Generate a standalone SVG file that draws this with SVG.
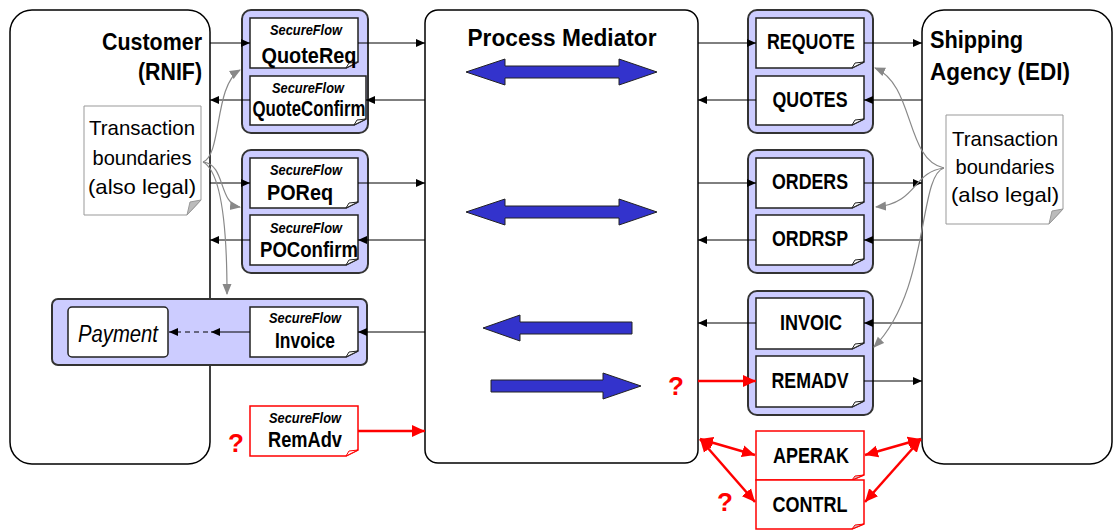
<svg xmlns="http://www.w3.org/2000/svg" width="1114" height="530" viewBox="0 0 1114 530">
<defs>
<style>
.big{fill:#fff;stroke:#000;stroke-width:1.5}
.grp{fill:#ccccff;stroke:#333;stroke-width:2}
.doc{fill:#fff;stroke:#222;stroke-width:1.5}
.rdoc{fill:#fff;stroke:#f00;stroke-width:1.5}
.fold{fill:#fff;stroke:#222;stroke-width:1}
.rfold{fill:#ccc;stroke:#f00;stroke-width:1}
.note{fill:#fff;stroke:#999;stroke-width:1}
.nfold{fill:#bbb;stroke:#999;stroke-width:1}
.t{font-family:"Liberation Sans",Arial,sans-serif;fill:#000}
.b{font-weight:bold}
.sf{font-family:"Liberation Sans",Arial,sans-serif;font-weight:bold;font-style:italic;font-size:14px;text-anchor:middle}
.dn{font-family:"Liberation Sans",Arial,sans-serif;font-weight:bold;font-size:22px;text-anchor:middle}
.q{font-family:"Liberation Sans",Arial,sans-serif;font-weight:bold;font-size:26px;fill:#f00;text-anchor:middle}
.ln{stroke:#000;stroke-width:1;fill:none}
.rl{stroke:#f00;stroke-width:2.5;fill:none}
.gl{stroke:#888;stroke-width:1.2;fill:none}
.ba{fill:#3333cc;stroke:#222;stroke-width:1}
</style>
<marker id="ah" markerUnits="userSpaceOnUse" markerWidth="10" markerHeight="10" refX="9" refY="5" orient="auto"><path d="M0,1 L9,5 L0,9 z" fill="#000"/></marker>
<marker id="rh" markerUnits="userSpaceOnUse" markerWidth="14" markerHeight="14" refX="13" refY="7" orient="auto"><path d="M0,1 L13,7 L0,13 z" fill="#f00"/></marker>
<marker id="rs" markerUnits="userSpaceOnUse" markerWidth="14" markerHeight="14" refX="1" refY="7" orient="auto"><path d="M14,1 L1,7 L14,13 z" fill="#f00"/></marker>
<marker id="gh" markerUnits="userSpaceOnUse" markerWidth="12" markerHeight="10" refX="10" refY="5" orient="auto"><path d="M0,0.5 L11,5 L0,9.5 z" fill="#888"/></marker>
</defs>

<g id="customer">
<rect class="big" x="10" y="10" width="200" height="454" rx="22"/>
<text class="t b" x="202" y="50" font-size="24" text-anchor="end" textLength="100" lengthAdjust="spacingAndGlyphs">Customer</text>
<text class="t b" x="202" y="80" font-size="24" text-anchor="end" textLength="64" lengthAdjust="spacingAndGlyphs">(RNIF)</text>
</g>

<g id="mediator">
<rect class="big" x="425" y="10" width="273" height="453" rx="13"/>
<text class="t b" x="562" y="46" font-size="24" text-anchor="middle" textLength="189" lengthAdjust="spacingAndGlyphs">Process Mediator</text>
</g>

<g id="shipping">
<rect class="big" x="922" y="10" width="190" height="454" rx="22"/>
<text class="t b" x="930" y="48" font-size="24" textLength="93" lengthAdjust="spacingAndGlyphs">Shipping</text>
<text class="t b" x="930" y="80" font-size="24" textLength="140" lengthAdjust="spacingAndGlyphs">Agency (EDI)</text>
</g>

<g id="blue-arrows">
<path class="ba" d="M466,72 L505,59 L505,66 L619,66 L619,59 L657,72 L619,85 L619,78 L505,78 L505,85 z"/>
<path class="ba" d="M466,212 L505,199 L505,206 L619,206 L619,199 L657,212 L619,225 L619,218 L505,218 L505,225 z"/>
<path class="ba" d="M483,328 L520,315 L520,322 L632,322 L632,334 L520,334 L520,341 z"/>
<path class="ba" d="M641,386 L603,373 L603,380 L491,380 L491,392 L603,392 L603,399 z"/>
</g>

<g id="note-left">
<path class="note" d="M84,106 L201,106 L201,200 L187,215 L84,215 z"/>
<path class="nfold" d="M187,215 L190,202 L201,200 z"/>
<text class="t" x="142" y="135" font-size="21" text-anchor="middle" textLength="106" lengthAdjust="spacingAndGlyphs">Transaction</text>
<text class="t" x="142" y="165" font-size="21" text-anchor="middle" textLength="99" lengthAdjust="spacingAndGlyphs">boundaries</text>
<text class="t" x="142" y="194" font-size="21" text-anchor="middle" textLength="108" lengthAdjust="spacingAndGlyphs">(also legal)</text>
</g>

<g id="note-right">
<path class="note" d="M946,115 L1063,115 L1063,209 L1049,224 L946,224 z"/>
<path class="nfold" d="M1049,224 L1052,211 L1063,209 z"/>
<text class="t" x="1005" y="146" font-size="21" text-anchor="middle" textLength="106" lengthAdjust="spacingAndGlyphs">Transaction</text>
<text class="t" x="1005" y="174" font-size="21" text-anchor="middle" textLength="99" lengthAdjust="spacingAndGlyphs">boundaries</text>
<text class="t" x="1005" y="202" font-size="21" text-anchor="middle" textLength="108" lengthAdjust="spacingAndGlyphs">(also legal)</text>
</g>

<g id="quote-group">
<rect class="grp" x="242" y="10" width="126" height="123" rx="9"/>
<g id="quotereq">
<path class="doc" d="M250,18 L358,18 L358,62 L346,68 L250,68 z"/><path class="fold" d="M346,68 L349,63 L358,62 z"/>
<text class="sf" x="306" y="35" textLength="72" lengthAdjust="spacingAndGlyphs">SecureFlow</text>
<text class="dn" x="309" y="63" textLength="95" lengthAdjust="spacingAndGlyphs">QuoteReq</text>
</g>
<g id="quoteconfirm">
<path class="doc" d="M250,76 L366,76 L366,119 L354,125 L250,125 z"/><path class="fold" d="M354,125 L357,120 L366,119 z"/>
<text class="sf" x="308" y="93" textLength="72" lengthAdjust="spacingAndGlyphs">SecureFlow</text>
<text class="dn" x="309" y="116" font-size="20" textLength="113" lengthAdjust="spacingAndGlyphs">QuoteConfirm</text>
</g>
</g>

<g id="po-group">
<rect class="grp" x="242" y="150" width="126" height="123" rx="9"/>
<g id="poreq">
<path class="doc" d="M250,158 L358,158 L358,202 L346,208 L250,208 z"/><path class="fold" d="M346,208 L349,203 L358,202 z"/>
<text class="sf" x="306" y="175" textLength="72" lengthAdjust="spacingAndGlyphs">SecureFlow</text>
<text class="dn" x="300" y="200" textLength="66" lengthAdjust="spacingAndGlyphs">POReq</text>
</g>
<g id="poconfirm">
<path class="doc" d="M250,215 L358,215 L358,259 L346,265 L250,265 z"/><path class="fold" d="M346,265 L349,260 L358,259 z"/>
<text class="sf" x="306" y="233" textLength="72" lengthAdjust="spacingAndGlyphs">SecureFlow</text>
<text class="dn" x="309" y="257" textLength="98" lengthAdjust="spacingAndGlyphs">POConfirm</text>
</g>
</g>

<g id="invoice-group">
<rect class="grp" x="52" y="299" width="315" height="66" rx="6"/>
<g id="payment">
<rect class="doc" x="68" y="307" width="100" height="50" rx="4"/>
<text class="t" x="118" y="342" font-size="23" font-style="italic" text-anchor="middle" textLength="80" lengthAdjust="spacingAndGlyphs">Payment</text>
</g>
<g id="invoice">
<path class="doc" d="M250,307 L358,307 L358,351 L346,357 L250,357 z"/><path class="fold" d="M346,357 L349,352 L358,351 z"/>
<text class="sf" x="305" y="323" textLength="72" lengthAdjust="spacingAndGlyphs">SecureFlow</text>
<text class="dn" x="305" y="348" textLength="60" lengthAdjust="spacingAndGlyphs">Invoice</text>
</g>
</g>

<g id="remadv-left">
<path class="rdoc" d="M250,406 L358,406 L358,450 L346,456 L250,456 z"/><path class="fold" d="M346,456 L349,451 L358,450 z" style="stroke:#f00"/>
<text class="sf" x="305" y="423" textLength="72" lengthAdjust="spacingAndGlyphs">SecureFlow</text>
<text class="dn" x="305" y="447" textLength="74" lengthAdjust="spacingAndGlyphs">RemAdv</text>
</g>

<g id="requote-group">
<rect class="grp" x="748" y="10" width="125" height="123" rx="9"/>
<g id="requote">
<path class="doc" d="M756,18 L864,18 L864,62 L852,68 L756,68 z"/><path class="fold" d="M852,68 L855,63 L864,62 z"/>
<text class="dn" x="811" y="49" font-size="20" textLength="88" lengthAdjust="spacingAndGlyphs">REQUOTE</text>
</g>
<g id="quotes">
<path class="doc" d="M756,76 L864,76 L864,119 L852,125 L756,125 z"/><path class="fold" d="M852,125 L855,120 L864,119 z"/>
<text class="dn" x="810" y="107" font-size="20" textLength="75" lengthAdjust="spacingAndGlyphs">QUOTES</text>
</g>
</g>

<g id="orders-group">
<rect class="grp" x="748" y="150" width="125" height="123" rx="9"/>
<g id="orders">
<path class="doc" d="M756,158 L864,158 L864,202 L852,208 L756,208 z"/><path class="fold" d="M852,208 L855,203 L864,202 z"/>
<text class="dn" x="810" y="189" font-size="20" textLength="76" lengthAdjust="spacingAndGlyphs">ORDERS</text>
</g>
<g id="ordrsp">
<path class="doc" d="M756,215 L864,215 L864,259 L852,265 L756,265 z"/><path class="fold" d="M852,265 L855,260 L864,259 z"/>
<text class="dn" x="810" y="246" font-size="20" textLength="76" lengthAdjust="spacingAndGlyphs">ORDRSP</text>
</g>
</g>

<g id="invoic-group">
<rect class="grp" x="748" y="291" width="125" height="124" rx="9"/>
<g id="invoic">
<path class="doc" d="M756,298 L864,298 L864,343 L852,349 L756,349 z"/><path class="fold" d="M852,349 L855,344 L864,343 z"/>
<text class="dn" x="811" y="330" font-size="20" textLength="62" lengthAdjust="spacingAndGlyphs">INVOIC</text>
</g>
<g id="remadv">
<path class="doc" d="M756,356 L864,356 L864,401 L852,407 L756,407 z"/><path class="fold" d="M852,407 L855,402 L864,401 z"/>
<text class="dn" x="810" y="388" font-size="20" textLength="77" lengthAdjust="spacingAndGlyphs">REMADV</text>
</g>
</g>

<g id="aperak">
<path class="rdoc" d="M756,431 L864,431 L864,475 L852,480 L756,480 z"/><path class="rfold" d="M852,480 L855,476 L864,475 z"/>
<text class="dn" x="811" y="463" font-size="20" textLength="76" lengthAdjust="spacingAndGlyphs">APERAK</text>
</g>
<g id="contrl">
<path class="rdoc" d="M756,480 L864,480 L864,524 L852,529 L756,529 z"/><path class="rfold" d="M852,529 L855,525 L864,524 z"/>
<text class="dn" x="810" y="512" font-size="20" textLength="75" lengthAdjust="spacingAndGlyphs">CONTRL</text>
</g>

<g id="question-marks">
<text class="q" x="236" y="452">?</text>
<text class="q" x="676" y="395">?</text>
<text class="q" x="725" y="511">?</text>
</g>

<g id="connectors">
<line class="ln" x1="210" y1="43" x2="250" y2="43" marker-end="url(#ah)"/>
<line class="ln" x1="358" y1="43" x2="425" y2="43" marker-end="url(#ah)"/>
<line class="ln" x1="425" y1="100" x2="366" y2="100" marker-end="url(#ah)"/>
<line class="ln" x1="250" y1="100" x2="210" y2="100" marker-end="url(#ah)"/>
<line class="ln" x1="210" y1="183" x2="250" y2="183" marker-end="url(#ah)"/>
<line class="ln" x1="358" y1="183" x2="425" y2="183" marker-end="url(#ah)"/>
<line class="ln" x1="425" y1="240" x2="358" y2="240" marker-end="url(#ah)"/>
<line class="ln" x1="250" y1="240" x2="210" y2="240" marker-end="url(#ah)"/>
<line class="ln" x1="425" y1="332" x2="358" y2="332" marker-end="url(#ah)"/>
<line class="ln" x1="250" y1="332" x2="211" y2="332" marker-end="url(#ah)"/>
<line class="ln" x1="208" y1="332" x2="169" y2="332" stroke-dasharray="5,4" stroke-width="1.5" marker-end="url(#ah)"/>
<line class="rl" x1="358" y1="431" x2="425" y2="431" stroke-width="2" marker-end="url(#rh)"/>

<line class="ln" x1="698" y1="43" x2="756" y2="43" marker-end="url(#ah)"/>
<line class="ln" x1="864" y1="43" x2="922" y2="43" marker-end="url(#ah)"/>
<line class="ln" x1="922" y1="100" x2="864" y2="100" marker-end="url(#ah)"/>
<line class="ln" x1="756" y1="100" x2="698" y2="100" marker-end="url(#ah)"/>
<line class="ln" x1="698" y1="183" x2="756" y2="183" marker-end="url(#ah)"/>
<line class="ln" x1="864" y1="183" x2="922" y2="183" marker-end="url(#ah)"/>
<line class="ln" x1="922" y1="240" x2="864" y2="240" marker-end="url(#ah)"/>
<line class="ln" x1="756" y1="240" x2="698" y2="240" marker-end="url(#ah)"/>
<line class="ln" x1="922" y1="323" x2="864" y2="323" marker-end="url(#ah)"/>
<line class="ln" x1="756" y1="323" x2="698" y2="323" marker-end="url(#ah)"/>
<line class="rl" x1="698" y1="381" x2="756" y2="381" marker-end="url(#rh)"/>
<line class="ln" x1="864" y1="381" x2="922" y2="381" marker-end="url(#ah)"/>

<line class="rl" x1="700" y1="439" x2="755" y2="455" marker-start="url(#rs)" marker-end="url(#rh)"/>
<line class="rl" x1="700" y1="439" x2="755" y2="502" marker-start="url(#rs)" marker-end="url(#rh)"/>
<line class="rl" x1="921" y1="439" x2="865" y2="455" marker-start="url(#rs)" marker-end="url(#rh)"/>
<line class="rl" x1="921" y1="439" x2="865" y2="502" marker-start="url(#rs)" marker-end="url(#rh)"/>

<path class="gl" d="M203,162 C222,155 214,85 240,70" marker-end="url(#gh)"/>
<path class="gl" d="M203,162 C226,164 218,204 240,207" marker-end="url(#gh)"/>
<path class="gl" d="M203,162 C222,172 227,230 227,294" marker-end="url(#gh)"/>
<path class="gl" d="M944,168 C905,160 915,85 875,68" marker-end="url(#gh)"/>
<path class="gl" d="M944,168 C912,172 918,203 876,207" marker-end="url(#gh)"/>
<path class="gl" d="M944,168 C918,175 930,290 874,347" marker-end="url(#gh)"/>
</g>
</svg>
